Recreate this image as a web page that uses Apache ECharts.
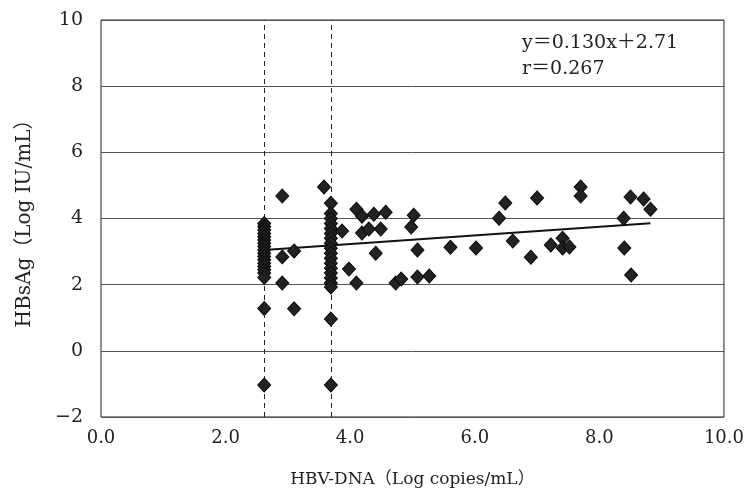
<!DOCTYPE html>
<html>
<head>
<meta charset="utf-8">
<script src="https://cdn.jsdelivr.net/npm/echarts@6/dist/echarts.min.js"></script>
<style>
  html, body { margin: 0; padding: 0; background: #fff; }
  #chart { width: 747px; height: 494px; }
</style>
</head>
<body>
<div id="chart"></div>
<script>
// HBV-DNA (log copies/mL) versus HBsAg (log IU/mL), paired by index
const hbvDna = [
  // cluster at the lower detection limit
  2.62, 2.62, 2.62, 2.62, 2.62, 2.62, 2.62, 2.62, 2.62, 2.62,
  2.62, 2.62, 2.62, 2.62, 2.62, 2.62, 2.62, 2.62, 2.62,
  // cluster at the second cut-off
  3.58, 3.69, 3.69, 3.69, 3.69, 3.69, 3.69, 3.69, 3.69, 3.69,
  3.69, 3.69, 3.69, 3.69, 3.69, 3.69, 3.69, 3.69, 3.69, 3.69,
  // remaining patients
  2.91, 2.91, 3.10, 2.91, 3.10, 3.87, 3.98, 4.10, 4.10, 4.19,
  4.38, 4.57, 5.02, 4.98, 4.19, 4.30, 4.49, 4.41, 5.08, 5.61,
  6.02, 4.73, 4.82, 5.08, 5.27, 6.39, 6.49, 6.61, 7.00, 6.90,
  7.22, 7.41, 7.41, 7.52, 7.70, 7.70, 8.39, 8.40, 8.51, 8.50,
  8.71, 8.82
];
const hbsAg = [
  3.85, 3.75, 3.65, 3.55, 3.45, 3.35, 3.25, 3.15, 3.05, 2.95,
  2.85, 2.75, 2.65, 2.55, 2.45, 2.35, 2.22, 1.28, -1.03,
  4.95, 4.46, 4.15, 4.00, 3.85, 3.70, 3.55, 3.40, 3.25, 3.10,
  2.95, 2.80, 2.65, 2.50, 2.35, 2.20, 2.05, 1.93, 0.96, -1.03,
  4.68, 2.84, 3.02, 2.05, 1.27, 3.62, 2.47, 2.05, 4.28, 4.07,
  4.13, 4.19, 4.10, 3.74, 3.56, 3.68, 3.68, 2.95, 3.05, 3.13,
  3.11, 2.05, 2.17, 2.23, 2.26, 4.01, 4.47, 3.32, 4.62, 2.83,
  3.20, 3.40, 3.11, 3.14, 4.95, 4.68, 4.01, 3.11, 2.29, 4.65,
  4.59, 4.28
];

// Cut-off values (dashed verticals)
const cutOffs = [2.62, 3.69];

// Linear regression as stated in the annotation
const slope = 0.130;
const intercept = 2.71;
const fitRange = [2.62, 8.82];
const corrR = '0.267';

const xTicks = { min: 0, max: 10, interval: 2 };
const yTicks = { min: -2, max: 10, interval: 2 };

const points = hbvDna.map((x, i) => [x, hbsAg[i]]);
const fitLine = fitRange.map(x => [x, slope * x + intercept]);

const serif = '"DejaVu Serif", "Liberation Serif", "Noto Sans CJK JP", serif';
const chart = echarts.init(document.getElementById('chart'), null, { renderer: 'canvas' });

chart.setOption({
  backgroundColor: '#ffffff',
  animation: false,
  grid: {
    left: 101, right: 20, top: 20, bottom: 77,
    show: true, borderColor: '#222', borderWidth: 1, backgroundColor: 'transparent'
  },
  xAxis: {
    type: 'value',
    min: xTicks.min, max: xTicks.max, interval: xTicks.interval,
    name: 'HBV-DNA（Log copies/mL）',
    nameLocation: 'middle', nameGap: 54,
    nameTextStyle: { fontFamily: serif, fontSize: 17, color: '#222' },
    axisLine: { show: false },
    axisTick: { show: false },
    splitLine: { show: false },
    axisLabel: {
      margin: 12, fontFamily: serif, fontSize: 18, color: '#222',
      formatter: v => v.toFixed(1)
    }
  },
  yAxis: {
    type: 'value',
    min: yTicks.min, max: yTicks.max, interval: yTicks.interval,
    name: 'HBsAg（Log IU/mL）',
    nameLocation: 'middle', nameGap: 66, nameRotate: 90,
    nameTextStyle: { fontFamily: serif, fontSize: 20, color: '#222' },
    axisLine: { show: false },
    axisTick: { show: false },
    splitLine: { show: true, lineStyle: { color: '#555', width: 1 } },
    axisLabel: {
      margin: 18, fontFamily: serif, fontSize: 19, color: '#222',
      formatter: v => (v < 0 ? '\u2212' + Math.abs(v) : String(v))
    }
  },
  graphic: [{
    type: 'text', left: 522, top: 30,
    style: {
      text: 'y＝' + slope.toFixed(3) + 'x＋' + intercept.toFixed(2) + '\nr＝' + corrR,
      fontFamily: serif, fontSize: 19, lineHeight: 26, fill: '#222'
    }
  }],
  series: [
    {
      type: 'line',
      data: fitLine,
      symbol: 'none',
      lineStyle: { color: '#111', width: 2 },
      z: 3,
      markLine: {
        silent: true,
        symbol: 'none',
        label: { show: false },
        lineStyle: { color: '#222', type: [5, 4], width: 1 },
        data: cutOffs.map(v => ({ xAxis: v }))
      }
    },
    {
      type: 'scatter',
      data: points,
      symbol: 'diamond',
      symbolSize: [13, 14],
      itemStyle: { color: '#222', borderColor: '#0a0a0a', borderWidth: 1, opacity: 1 },
      z: 4
    }
  ]
});
</script>
</body>
</html>
